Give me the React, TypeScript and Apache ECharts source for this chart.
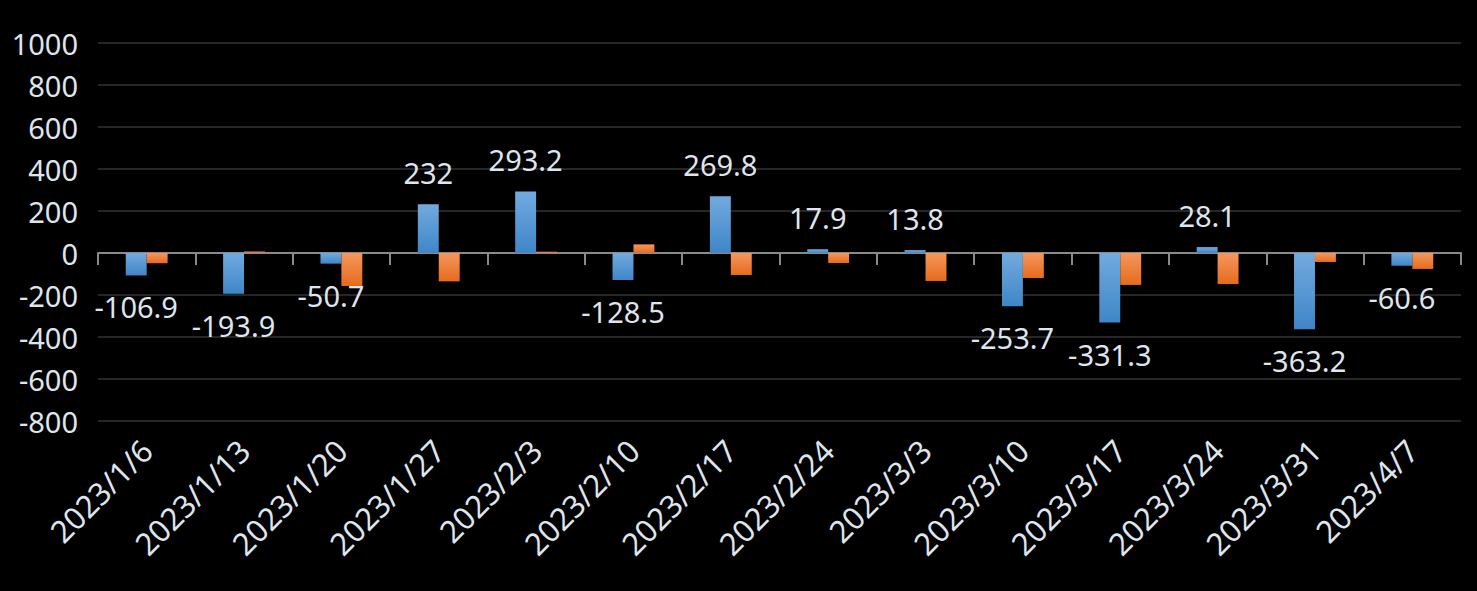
import React, { useEffect, useRef } from "react";
import * as echarts from "echarts";

const categories = [
  "2023/1/6", "2023/1/13", "2023/1/20", "2023/1/27", "2023/2/3", "2023/2/10", "2023/2/17",
  "2023/2/24", "2023/3/3", "2023/3/10", "2023/3/17", "2023/3/24", "2023/3/31", "2023/4/7",
];
const blueValues = [-106.9, -193.9, -50.7, 232, 293.2, -128.5, 269.8, 17.9, 13.8, -253.7, -331.3, 28.1, -363.2, -60.6];
const orangeValues = [-49, 7, -157, -135, 6, 41, -105, -48, -133, -119, -152, -148, -43, -76];
const yTicks = { min: -800, max: 1000, interval: 200 };

const FONT = "Noto Sans";
const TEXT = "#dfe5ec";

export default function App() {
  const ref = useRef<HTMLDivElement>(null);
  useEffect(() => {
    document.body.style.margin = "0";
    const chart = echarts.init(ref.current!, null, { renderer: "svg" });
    const blueGrad = new echarts.graphic.LinearGradient(0, 0, 0, 1, [
      { offset: 0, color: "#72aade" },
      { offset: 1, color: "#3f86c8" },
    ]);
    const orangeGrad = new echarts.graphic.LinearGradient(0, 0, 0, 1, [
      { offset: 0, color: "#f5975e" },
      { offset: 1, color: "#e66b1c" },
    ]);
    chart.setOption({
      animation: false,
      backgroundColor: "#000000",
      grid: { left: 98, right: 16, top: 43, bottom: 170 },
      xAxis: [
        {
          type: "category",
          data: categories,
          position: "bottom",
          axisLine: { show: false, onZero: false },
          axisTick: { show: false },
          axisLabel: {
            rotate: 45,
            color: TEXT,
            fontFamily: FONT,
            fontSize: 31,
            margin: 24,
            interval: 0,
          },
        },
        {
          type: "category",
          data: categories,
          position: "bottom",
          axisLine: { show: true, onZero: true, lineStyle: { color: "#8a8a8a", width: 2 } },
          axisTick: { show: true, length: 12, lineStyle: { color: "#8a8a8a", width: 2 } },
          axisLabel: { show: false },
        },
      ],
      yAxis: {
        type: "value",
        min: yTicks.min,
        max: yTicks.max,
        interval: yTicks.interval,
        axisLine: { show: false },
        axisTick: { show: false },
        splitLine: { lineStyle: { color: "#262626", width: 2 } },
        axisLabel: {
          color: TEXT,
          fontFamily: FONT,
          fontSize: 29,
          margin: 20,
          formatter: (v: number) => String(v),
        },
      },
      series: [
        {
          type: "bar",
          xAxisIndex: 0,
          data: blueValues.map((v) => ({
            value: v,
            label: { position: v >= 0 ? "top" : "bottom" },
          })),
          itemStyle: { color: blueGrad },
          barGap: "0%",
          barCategoryGap: "57%",
          label: {
            show: true,
            color: TEXT,
            fontFamily: FONT,
            fontSize: 29,
            distance: 17,
          },
        },
        {
          type: "bar",
          xAxisIndex: 0,
          data: orangeValues,
          itemStyle: { color: orangeGrad },
          barGap: "0%",
          barCategoryGap: "57%",
        },
      ],
    });
    return () => chart.dispose();
  }, []);
  return (
    <div
      ref={ref}
      style={{ position: "absolute", left: 0, top: 0, width: 1477, height: 591 }}
    />
  );
}
